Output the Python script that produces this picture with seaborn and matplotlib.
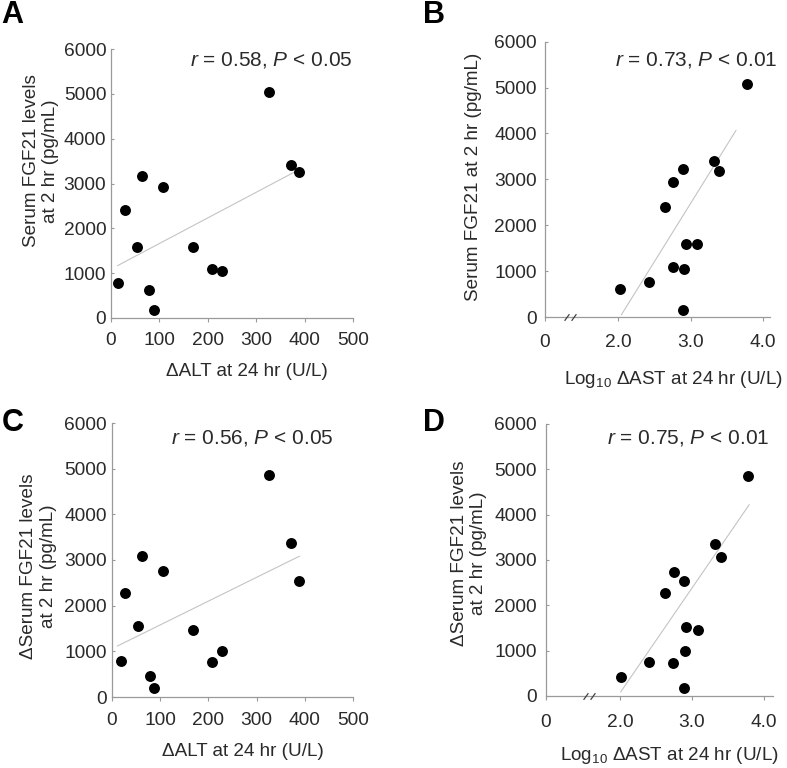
import matplotlib
matplotlib.use("Agg")
import matplotlib.pyplot as plt
from matplotlib.path import Path
from matplotlib.transforms import Affine2D
import pandas as pd
import seaborn as sns

# ---------------- data ----------------
# Panel A: Serum FGF21 at 2 hr vs dALT at 24 hr
a_alt = [15, 29, 55, 65, 80, 89, 108, 169, 209, 229, 327, 372, 388]
a_fgf = [773, 2409, 1576, 3175, 625, 178, 2929, 1576, 1100, 1056, 5048, 3405, 3257]
a_fit_x = [14, 387]
a_fit_y = [1167, 3300]
a_text = r"$\mathit{r}$ = 0.58, $\mathit{P}$ < 0.05"

# Panel B: Serum FGF21 at 2 hr vs log10 dAST at 24 hr
b_ast = [2.02, 2.42, 2.65, 2.75, 2.76, 2.89, 2.89, 2.91, 2.93, 3.09, 3.33, 3.40, 3.78]
b_fgf = [603, 770, 2397, 1097, 2942, 3232, 153, 1039, 1583, 1583, 3407, 3182, 5077]
b_fit_x = [2.04, 3.63]
b_fit_y = [44, 4070]
b_text = r"$\mathit{r}$ = 0.73, $\mathit{P}$ < 0.01"

# Panel C: dSerum FGF21 vs dALT
c_alt = [19, 28, 54, 63, 78, 87, 105, 168, 207, 229, 326, 371, 388]
c_fgf = [780, 2281, 1552, 3090, 452, 197, 2762, 1458, 758, 1006, 4854, 3367, 2536]
c_fit_x = [11, 389]
c_fit_y = [1115, 3084]
c_text = r"$\mathit{r}$ = 0.56, $\mathit{P}$ < 0.05"

# Panel D: dSerum FGF21 vs log10 dAST
d_ast = [2.01, 2.41, 2.63, 2.74, 2.75, 2.89, 2.89, 2.91, 2.92, 3.08, 3.33, 3.40, 3.78]
d_fgf = [419, 749, 2283, 734, 2746, 2526, 169, 991, 1527, 1446, 3363, 3069, 4853]
d_fit_x = [2.01, 3.80]
d_fit_y = [88, 4222]
d_text = r"$\mathit{r}$ = 0.75, $\mathit{P}$ < 0.01"

y_ticks = [0, 1000, 2000, 3000, 4000, 5000, 6000]
alt_ticks = [0, 100, 200, 300, 400, 500]
ast_ticks = [2.0, 3.0, 4.0]
ast_tick_labels = ["2.0", "3.0", "4.0"]

alt_label = "\u0394ALT at 24 hr (U/L)"
ast_label = "Log$_{10}$ \u0394AST at 24 hr (U/L)"
ylab_a = "Serum FGF21 levels\nat 2 hr (pg/mL)"
ylab_b = "Serum FGF21 at 2 hr (pg/mL)"
ylab_cd = "\u0394Serum FGF21 levels\nat 2 hr (pg/mL)"

# ---------------- style ----------------
sns.set_style("white")
plt.rcParams["font.family"] = ["Liberation Sans", "DejaVu Sans"]
plt.rcParams["mathtext.fontset"] = "custom"
plt.rcParams["mathtext.rm"] = "Liberation Sans"
plt.rcParams["mathtext.it"] = "Liberation Sans:italic"
plt.rcParams["mathtext.bf"] = "Liberation Sans:bold"

W, H = 787, 768
FS_TICK = 13.8
FS_LAB = 13.6
FS_ANN = 15
TXT = "#2a2a2a"
SPINE = "#9a9a9a"
FIT = "#c4c4c4"

fig = plt.figure(figsize=(W / 100, H / 100), dpi=100)
fig.patch.set_facecolor("white")
PIX = Affine2D().scale(1 / W, -1 / H).translate(0, 1) + fig.transFigure


def make_ax(l, t, r, b):
    return fig.add_axes([l / W, 1 - b / H, (r - l) / W, (b - t) / H])


def style(ax, xpad, ypad):
    for s in ["top", "right"]:
        ax.spines[s].set_visible(False)
    for s in ["left", "bottom"]:
        ax.spines[s].set_color(SPINE)
        ax.spines[s].set_linewidth(0.9)
    ax.tick_params(axis="y", direction="in", length=2.3, width=0.8,
                   color=SPINE, labelsize=FS_TICK, labelcolor=TXT, pad=ypad, left=True)
    ax.tick_params(axis="x", direction="out", length=3.0, width=0.8,
                   color=SPINE, labelsize=FS_TICK, labelcolor=TXT, pad=xpad, bottom=True)
    ax.set_ylim(0, 6000)
    ax.set_yticks(y_ticks)
    ax.grid(False)


def draw(ax, x, y, fx, fy):
    sns.lineplot(x=fx, y=fy, ax=ax, color=FIT, linewidth=0.8, zorder=2)
    sns.scatterplot(x=x, y=y, ax=ax, color="black", s=62, linewidth=0,
                    zorder=3, clip_on=False)


def brk(ax, xb):
    path = Path([(-1.6, -0.9), (-0.3, 0.9), (0.3, -0.9), (1.6, 0.9)],
                [Path.MOVETO, Path.LINETO, Path.MOVETO, Path.LINETO])
    ax.plot([xb], [0], marker=path, markersize=8.5, markeredgewidth=0.9,
            color="#444444", linestyle="none", clip_on=False, zorder=4)


def label_text(ax, xl, yl, xpos, ypos):
    ax.set_xlabel(xl, fontsize=FS_LAB, color=TXT)
    ax.set_ylabel(yl, fontsize=FS_LAB, color=TXT, linespacing=1.2)
    ax.xaxis.set_label_coords(*xpos, transform=PIX)
    ax.yaxis.set_label_coords(*ypos, transform=PIX)
    ax.xaxis.label.set_va("center")
    ax.yaxis.label.set_va("center")
    ax.yaxis.label.set_ha("center")


# ---------------- Panel A ----------------
axA = make_ax(110.7, 49, 353, 318)
draw(axA, a_alt, a_fgf, a_fit_x, a_fit_y)
axA.set_xlim(0, 500)
axA.set_xticks(alt_ticks)
style(axA, xpad=6.8, ypad=3.2)
label_text(axA, alt_label, ylab_a, (247, 371), (41, 161))

# ---------------- Panel B ----------------
axB = make_ax(545, 41.7, 770, 317)
draw(axB, b_ast, b_fgf, b_fit_x, b_fit_y)
b_left = 0.984
axB.set_xlim(b_left, 4.10)
axB.set_xticks([b_left] + ast_ticks)
axB.set_xticklabels(["0"] + ast_tick_labels)
style(axB, xpad=8.9, ypad=5.8)
brk(axB, 1.33)
label_text(axB, ast_label, ylab_b, (673, 380), (474, 177))

# ---------------- Panel C ----------------
axC = make_ax(112, 423, 353, 697)
draw(axC, c_alt, c_fgf, c_fit_x, c_fit_y)
axC.set_xlim(0, 500)
axC.set_xticks(alt_ticks)
style(axC, xpad=7.5, ypad=3.6)
label_text(axC, alt_label, ylab_cd, (243, 751), (38.5, 566))

# ---------------- Panel D ----------------
axD = make_ax(546, 424, 773, 696)
draw(axD, d_ast, d_fgf, d_fit_x, d_fit_y)
d_left = 0.972
axD.set_xlim(d_left, 4.13)
axD.set_xticks([d_left] + ast_ticks)
axD.set_xticklabels(["0"] + ast_tick_labels)
style(axD, xpad=9.9, ypad=6.5)
brk(axD, 1.574)
label_text(axD, ast_label, ylab_cd, (669, 755), (469, 553))

# ---------------- annotations & panel letters ----------------
for txt, (xr, yb) in [(a_text, (352, 65)), (b_text, (777, 65)),
                      (c_text, (333, 444)), (d_text, (769, 443))]:
    fig.text(xr, yb, txt, transform=PIX, ha="right", va="baseline",
             fontsize=FS_ANN, color=TXT)

for letter, (xl, yb) in [("A", (1.7, 23)), ("B", (423, 23)),
                         ("C", (1.7, 431)), ("D", (423, 431))]:
    fig.text(xl, yb, letter, transform=PIX, ha="left", va="baseline",
             fontsize=22, fontweight="bold", color="black")

fig.savefig("out.png", dpi=100, facecolor="white")
